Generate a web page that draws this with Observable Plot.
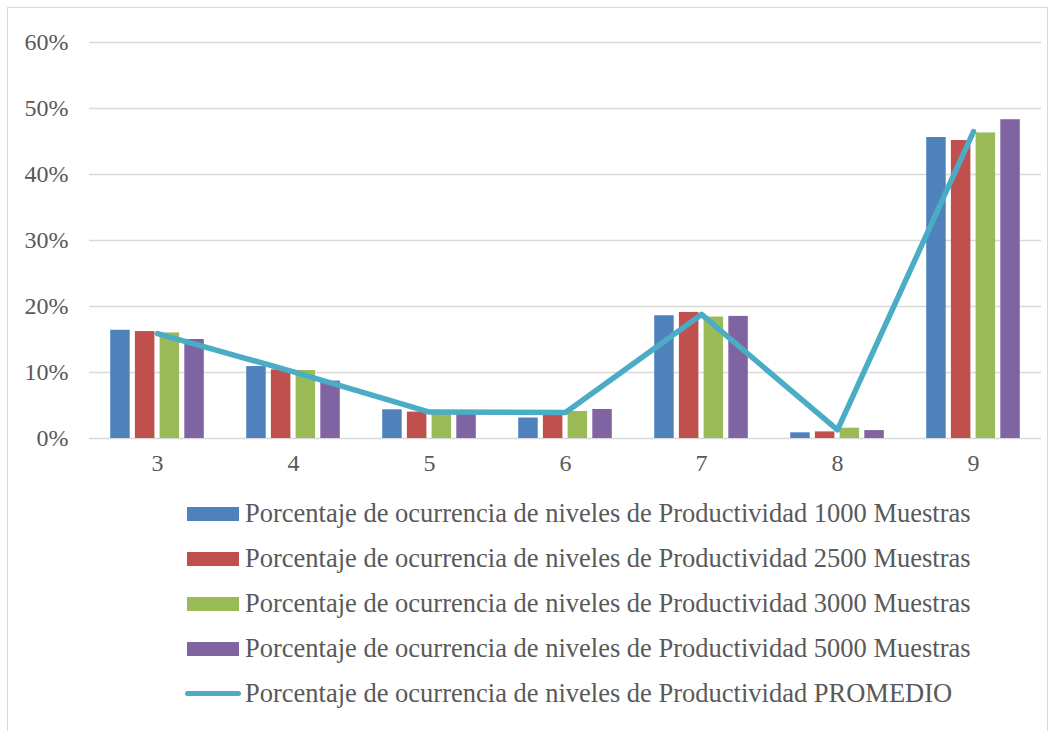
<!DOCTYPE html>
<html>
<head>
<meta charset="utf-8">
<script src="https://cdn.jsdelivr.net/npm/d3@7"></script>
<script src="https://cdn.jsdelivr.net/npm/@observablehq/plot@0.6"></script>
<style>
  body { margin: 0; background: #fff; }
  #frame { position: absolute; left: 7px; top: 7px; width: 1039px; height: 740px; border: 1px solid #d9d9d9; background: #fff; }
  #chart { position: absolute; left: 0; top: 0; }
  #chart svg, #chart svg text { font-family: "Liberation Serif", "Times New Roman", serif !important; }
  .row { position: absolute; left: 0; height: 30px; line-height: 30px; font-family: "Liberation Serif", "Times New Roman", serif; font-size: 26.5px; color: #595959; white-space: nowrap; }
  .sw { position: absolute; left: 179px; top: 8.8px; width: 52px; height: 14px; }
  .ln { position: absolute; left: 177px; top: 13.3px; width: 56px; height: 5px; border-radius: 2.5px; }
  .lbl { position: absolute; left: 237px; top: 0; }
</style>
</head>
<body>
<div id="frame"><div id="chart"></div><div id="legend"></div></div>
<script>
const categories = ["3", "4", "5", "6", "7", "8", "9"];
const seriesNames = [
  "Porcentaje de ocurrencia de niveles de Productividad 1000 Muestras",
  "Porcentaje de ocurrencia de niveles de Productividad 2500 Muestras",
  "Porcentaje de ocurrencia de niveles de Productividad 3000 Muestras",
  "Porcentaje de ocurrencia de niveles de Productividad 5000 Muestras"
];
const lineName = "Porcentaje de ocurrencia de niveles de Productividad PROMEDIO";
const s1000 = [16.4, 10.9, 4.35, 3.1, 18.6, 0.86, 45.6];
const s2500 = [16.2, 10.4, 4.0, 4.2, 19.1, 1.0, 45.15];
const s3000 = [16.0, 10.3, 3.9, 4.1, 18.4, 1.56, 46.3];
const s5000 = [15.0, 8.7, 3.8, 4.4, 18.5, 1.2, 48.3];
const promedio = [15.9, 10.1, 4.0, 3.95, 18.8, 1.3, 46.5];
const yTicks = [0, 10, 20, 30, 40, 50, 60];
const barColors = ["#4F81BD", "#C0504D", "#9BBB59", "#8064A2"];
const lineColor = "#4BACC6";
const serif = "'Liberation Serif', 'Times New Roman', serif";

const seriesValues = [s1000, s2500, s3000, s5000];
const barWidth = 19.5;
const step = 24.7;
const bandW = 136;
const inset = (bandW - barWidth) / 2;

const barMarks = seriesValues.map((vals, i) =>
  Plot.barY(categories.map((c, j) => ({cat: c, value: vals[j], series: seriesNames[i]})), {
    x: "cat", y: "value", fill: barColors[i],
    insetLeft: inset, insetRight: inset,
    dx: (i - 1.5) * step
  })
);

const lineData = categories.map((c, j) => ({cat: c, value: promedio[j]}));

const chart = Plot.plot({
  width: 1039,
  height: 490,
  marginLeft: 81,
  marginRight: 6,
  marginTop: 34,
  marginBottom: 60,
  style: {fontFamily: serif, fontSize: "24px", color: "#595959", background: "transparent"},
  x: {domain: categories, padding: 0, label: null},
  y: {domain: [0, 60], label: null},
  marks: [
    Plot.gridY(yTicks, {stroke: "#d9d9d9", strokeOpacity: 1, strokeWidth: 1.5}),
    ...barMarks,
    Plot.lineY(lineData, {x: "cat", y: "value", stroke: lineColor, strokeWidth: 5.5, strokeLinejoin: "round", strokeLinecap: "round"}),
    Plot.axisY(yTicks, {tickSize: 0, tickPadding: 21, tickFormat: d => `${d}%`, fontSize: 24, fontFamily: serif, fill: "#595959", label: null}),
    Plot.axisX({tickSize: 0, tickPadding: 15, fontSize: 24, fontFamily: serif, fill: "#595959", label: null})
  ]
});
document.getElementById("chart").appendChild(chart);

const legend = document.getElementById("legend");
const entries = seriesNames.map((n, i) => ({name: n, color: barColors[i], type: "bar"}))
  .concat([{name: lineName, color: lineColor, type: "line"}]);
entries.forEach((e, i) => {
  const row = document.createElement("div");
  row.className = "row";
  row.style.top = (490.2 + 45 * i) + "px";
  const sw = document.createElement("div");
  sw.className = e.type === "bar" ? "sw" : "ln";
  sw.style.background = e.color;
  const lbl = document.createElement("span");
  lbl.className = "lbl";
  lbl.textContent = e.name;
  row.appendChild(sw);
  row.appendChild(lbl);
  legend.appendChild(row);
});
</script>
</body>
</html>
